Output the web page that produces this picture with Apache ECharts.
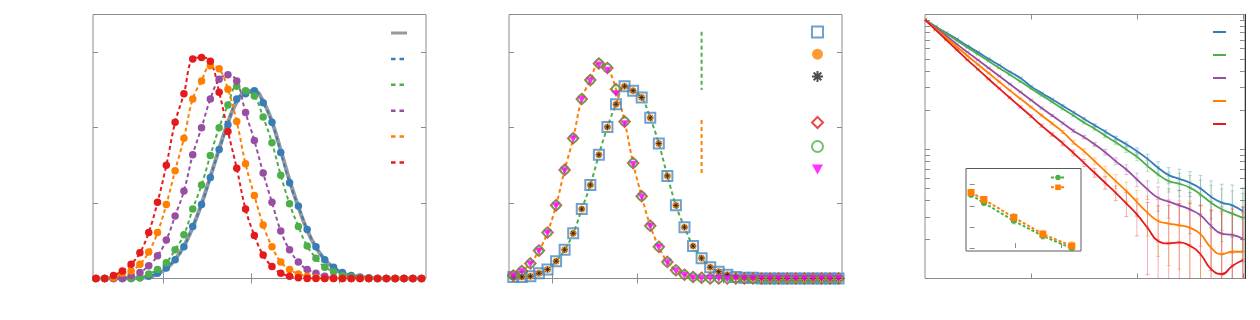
<!DOCTYPE html>
<html><head><meta charset="utf-8">
<script src="https://cdn.jsdelivr.net/npm/echarts@6/dist/echarts.min.js"></script>
<style>html,body{margin:0;padding:0;background:#fff}#c{width:1260px;height:320px}</style>
</head><body><div id="c"></div>
<script>
// ---------- Panel 1 ----------
const p1X = [0.23,0.33,0.43,0.53,0.63,0.73,0.83,0.93,1.03,1.13,1.23,1.33,1.43,1.53,1.63,1.73,1.83,1.93,2.03,2.13,2.23,2.33,2.43,2.53,2.63,2.73,2.83,2.93,3.03,3.13,3.23,3.33,3.43,3.53,3.63,3.73,3.83,3.93];
const p1Gray   = [0,0,0,0,0,0.01,0.02,0.06,0.13,0.25,0.43,0.68,0.99,1.35,1.72,2.07,2.34,2.48,2.49,2.35,2.08,1.70,1.30,0.95,0.64,0.41,0.25,0.14,0.07,0.04,0.02,0.01,0,0,0,0,0,0];
const p1Blue   = [0,0,0,0,0,0.01,0.03,0.07,0.14,0.25,0.42,0.69,0.98,1.34,1.71,2.04,2.38,2.45,2.49,2.33,2.07,1.67,1.27,0.96,0.65,0.42,0.25,0.15,0.08,0.04,0.02,0.01,0,0,0,0,0,0];
const p1Green  = [0,0,0,0,0,0.01,0.06,0.12,0.21,0.38,0.58,0.92,1.24,1.63,2.00,2.30,2.55,2.49,2.42,2.14,1.80,1.37,0.99,0.69,0.43,0.27,0.15,0.09,0.04,0.02,0.01,0,0,0,0,0,0,0];
const p1Purple = [0,0,0,0,0.04,0.08,0.17,0.30,0.51,0.83,1.16,1.64,2.00,2.38,2.64,2.70,2.62,2.20,1.83,1.40,1.01,0.63,0.38,0.22,0.12,0.07,0.03,0.01,0,0,0,0,0,0,0,0,0,0];
const p1Orange = [0,0,0.01,0.07,0.10,0.19,0.35,0.61,0.98,1.43,1.86,2.38,2.62,2.82,2.78,2.51,2.08,1.52,1.10,0.71,0.42,0.22,0.12,0.06,0.03,0.01,0,0,0,0,0,0,0,0,0,0,0,0];
const p1Red    = [0,0,0.04,0.10,0.19,0.34,0.61,1.01,1.50,2.07,2.45,2.91,2.93,2.88,2.47,1.95,1.46,0.92,0.57,0.31,0.16,0.07,0.03,0.01,0,0,0,0,0,0,0,0,0,0,0,0,0,0];
const p1XTicks = [1,2,3];
const p1YTicks = [1,2,3];

// ---------- Panel 2 ----------
const p2X = [0.55,0.65,0.75,0.85,0.95,1.05,1.15,1.25,1.35,1.45,1.55,1.65,1.75,1.85,1.95,2.05,2.15,2.25,2.35,2.45,2.55,2.65,2.75,2.85,2.95,3.05,3.15,3.25,3.35,3.45,3.55,3.65,3.75,3.85,3.95,4.05,4.15,4.25,4.35];
const p2Square   = [0.02,0.02,0.03,0.07,0.12,0.23,0.38,0.60,0.92,1.24,1.64,2.01,2.31,2.55,2.49,2.40,2.13,1.79,1.36,0.97,0.68,0.43,0.27,0.15,0.09,0.05,0.02,0.01,0.01,0,0,0,0,0,0,0,0,0,0];
const p2Circle   = [0.02,0.02,0.03,0.07,0.12,0.23,0.38,0.60,0.92,1.24,1.64,2.01,2.31,2.55,2.49,2.40,2.13,1.79,1.36,0.97,0.68,0.43,0.27,0.15,0.09,0.05,0.02,0.01,0.01,0,0,0,0,0,0,0,0,0,0];
const p2Star     = [0.02,0.02,0.03,0.07,0.12,0.23,0.38,0.60,0.92,1.24,1.64,2.01,2.31,2.55,2.49,2.40,2.13,1.79,1.36,0.97,0.68,0.43,0.27,0.15,0.09,0.05,0.02,0.01,0.01,0,0,0,0,0,0,0,0,0,0];
const p2Diamond  = [0.04,0.10,0.20,0.37,0.61,0.97,1.44,1.86,2.38,2.63,2.85,2.79,2.51,2.08,1.53,1.09,0.70,0.42,0.22,0.11,0.05,0.02,0.01,0,0,0,0,0,0,0,0,0,0,0,0,0,0,0,0];
const p2Ring     = [0.04,0.10,0.20,0.37,0.61,0.97,1.44,1.86,2.38,2.63,2.85,2.79,2.51,2.08,1.53,1.09,0.70,0.42,0.22,0.11,0.05,0.02,0.01,0,0,0,0,0,0,0,0,0,0,0,0,0,0,0,0];
const p2Triangle = [0.03,0.09,0.19,0.36,0.60,0.96,1.43,1.85,2.37,2.62,2.83,2.76,2.45,2.05,1.51,1.08,0.69,0.41,0.21,0.10,0.04,0.01,0,0,0,0,0,0,0,0,0,0,0,0,0,0,0,0,0];
const p2GuideX = 2.75;
const p2GuideGreen  = [3.27, 2.50];
const p2GuideOrange = [2.10, 1.38];
const p2XTicks = [1,2,3,4];
const p2YTicks = [1,2,3];

// ---------- Panel 3 ----------
const p3X = [0,0.1,0.2,0.3,0.4,0.5,0.6,0.7,0.8,0.9,1.0,1.1,1.2,1.3,1.4,1.5,1.6,1.7,1.8,1.9,2.0,2.1,2.2,2.3,2.4,2.5,2.6,2.7,2.8,2.9,3.0];
const p3Blue   = [1,0.888,0.794,0.710,0.630,0.563,0.500,0.447,0.397,0.355,0.306,0.272,0.243,0.217,0.193,0.172,0.153,0.137,0.122,0.109,0.0965,0.0842,0.0718,0.0630,0.0590,0.0550,0.0497,0.0429,0.0386,0.0368,0.0331];
const p3Green  = [1,0.883,0.785,0.693,0.612,0.543,0.480,0.424,0.377,0.333,0.295,0.261,0.232,0.205,0.182,0.161,0.144,0.127,0.113,0.0993,0.0873,0.0740,0.0638,0.0566,0.0541,0.0504,0.0447,0.0385,0.0343,0.0317,0.0294];
const p3Purple = [1,0.868,0.753,0.649,0.563,0.489,0.424,0.368,0.319,0.277,0.240,0.208,0.182,0.159,0.139,0.124,0.109,0.0948,0.0808,0.0697,0.0583,0.0489,0.0421,0.0393,0.0368,0.0342,0.0308,0.0255,0.0222,0.0217,0.0203];
const p3Orange = [1,0.852,0.727,0.619,0.528,0.452,0.388,0.332,0.285,0.246,0.212,0.183,0.158,0.136,0.113,0.0965,0.0808,0.0676,0.0566,0.0475,0.0390,0.0323,0.0278,0.0266,0.0258,0.0247,0.0220,0.0173,0.0154,0.0161,0.0161];
const p3Red    = [1,0.837,0.701,0.587,0.491,0.414,0.349,0.295,0.250,0.212,0.180,0.152,0.130,0.111,0.0937,0.0784,0.0657,0.0550,0.0460,0.0381,0.0313,0.0247,0.0195,0.0187,0.0190,0.0179,0.0154,0.0118,0.0108,0.0125,0.0139];
const p3ErrBlue   = [0,0.003,0.003,0.003,0.003,0.003,0.003,0.003,0.003,0.003,0.003,0.003,0.003,0.003,0.003,0.003,0.004,0.004,0.004,0.005,0.006,0.007,0.008,0.009,0.011,0.012,0.013,0.014,0.015,0.016,0.017];
const p3ErrGreen  = [0,0.003,0.003,0.003,0.003,0.003,0.003,0.003,0.003,0.003,0.003,0.003,0.003,0.003,0.003,0.004,0.004,0.004,0.005,0.005,0.006,0.007,0.009,0.010,0.011,0.012,0.013,0.014,0.015,0.016,0.016];
const p3ErrPurple = [0,0.003,0.003,0.003,0.003,0.003,0.003,0.003,0.003,0.003,0.003,0.003,0.003,0.003,0.004,0.004,0.004,0.005,0.005,0.006,0.007,0.008,0.009,0.010,0.011,0.012,0.013,0.014,0.014,0.015,0.015];
const p3ErrOrange = [0,0.003,0.003,0.003,0.003,0.003,0.003,0.003,0.003,0.003,0.003,0.003,0.004,0.004,0.004,0.005,0.005,0.006,0.007,0.008,0.009,0.011,0.013,0.014,0.014,0.015,0.015,0.016,0.016,0.016,0.016];
const p3ErrRed    = [0,0.003,0.003,0.003,0.003,0.003,0.003,0.003,0.003,0.003,0.004,0.004,0.004,0.005,0.005,0.005,0.005,0.006,0.006,0.008,0.010,0.014,0.017,0.018,0.019,0.020,0.021,0.022,0.022,0.022,0.022];
const p3XTicks = [1,2,3];
const p3YMajor = [0.01,0.1,1];
const p3YMinor = [0.02,0.03,0.04,0.05,0.06,0.07,0.08,0.09,0.2,0.3,0.4,0.5,0.6,0.7,0.8,0.9];

// ---------- Inset ----------
const inX = [0.03,0.31,0.96,1.59,2.22];
const inGreen  = [2.52,2.14,1.29,0.57,-0.01];
const inOrange = [2.63,2.30,1.45,0.66,0.10];
const inErrGreen  = [0.12,0.12,0.15,0.15,0.15];
const inErrOrange = [0.15,0.15,0.18,0.18,0.2];
const inXTicks = [1,2];
const inYTicks = [0,1,2,3];

// ---------- colours ----------
const C = {blue:'#377eb8', green:'#4daf4a', purple:'#984ea3', orange:'#ff7f00', red:'#e41a1c', gray:'#999999', magenta:'#ff00ff'};
const BORDER = '#8c8c8c';

const zip = (xs, ys) => xs.map((x,i)=>[x, ys[i]]);
const zip3 = (xs, ys, es) => xs.map((x,i)=>[x, ys[i], es[i]]);

function xAx(grid, pos, min, max, ticks){
  return {type:'value', gridIndex:grid, position:pos, min, max,
    axisLine:{show:false}, splitLine:{show:false}, axisLabel:{show:false},
    axisTick:{show:true, inside:true, length:5, customValues:ticks, lineStyle:{color:BORDER}}};
}
function yAx(grid, pos, min, max, ticks, extra){
  return Object.assign({type:'value', gridIndex:grid, position:pos, min, max,
    axisLine:{show:false}, splitLine:{show:false}, axisLabel:{show:false},
    axisTick:{show:true, inside:true, length:5, customValues:ticks, lineStyle:{color:BORDER}}}, extra||{});
}

const DASH = [4,3];
function dashLine(name, xi, yi, xs, ys, color, width){
  return {type:'line', name, xAxisIndex:xi, yAxisIndex:yi, data:zip(xs,ys), smooth:0.4, symbol:'none',
    lineStyle:{color, width:width||2, type:DASH}, itemStyle:{color}, z:2};
}
function dots(xi, yi, xs, ys, color, size){
  return {type:'scatter', xAxisIndex:xi, yAxisIndex:yi, data:zip(xs,ys), symbol:'circle', symbolSize:size||7,
    itemStyle:{color, opacity:1}, z:3};
}

function errRender(color, isLog, capW){
  return function(params, api){
    const x = api.value(0), y = api.value(1), e = api.value(2);
    const c = api.coord([x, y]);
    const t = api.coord([x, y + e]);
    const lowV = y - e;
    let b = (!isLog || lowV > 0.0005) ? api.coord([x, lowV]) : [c[0], 400];
    if (!isFinite(b[1])) b = [c[0], 400];
    const w = capW || 2;
    return {type:'group', children:[
      {type:'line', shape:{x1:t[0], y1:t[1], x2:b[0], y2:b[1]}, style:{stroke:color, lineWidth:1}},
      {type:'line', shape:{x1:t[0]-w, y1:t[1], x2:t[0]+w, y2:t[1]}, style:{stroke:color, lineWidth:1}},
      {type:'line', shape:{x1:b[0]-w, y1:b[1], x2:b[0]+w, y2:b[1]}, style:{stroke:color, lineWidth:1}},
      {type:'line', shape:{x1:c[0]-2, y1:c[1]-2, x2:c[0]+2, y2:c[1]+2}, style:{stroke:color, lineWidth:1}},
      {type:'line', shape:{x1:c[0]-2, y1:c[1]+2, x2:c[0]+2, y2:c[1]-2}, style:{stroke:color, lineWidth:1}}
    ]};
  };
}
function errSeries(xi, yi, xs, ys, es, color, log, z){
  return {type:'custom', xAxisIndex:xi, yAxisIndex:yi, data:zip3(xs,ys,es), clip:true,
    renderItem: errRender(color, log, 2), z:z||1, silent:true};
}
function fade(hex, a){
  const n = parseInt(hex.slice(1),16);
  return 'rgba('+((n>>16)&255)+','+((n>>8)&255)+','+(n&255)+','+a+')';
}

const STAR = 'path://M5,0L5,10M0,5L10,5M1.5,1.5L8.5,8.5M1.5,8.5L8.5,1.5';
const TRI = 'path://M0,0L10,0L5,9Z';
const ICON_SOLID = 'path://M0,0H16V3H0Z';
const ICON_DASH = 'path://M0,0.25H4.5V2.75H0ZM8.5,0.25H13V2.75H8.5ZM16,3';
const ICON_LINE = 'path://M0,0H13V2H0Z';

const series = [];
// Panel 1
series.push({type:'line', name:'a1', xAxisIndex:0, yAxisIndex:0, data:zip(p1X,p1Gray), smooth:0.4, symbol:'none',
  lineStyle:{color:C.gray, width:4}, itemStyle:{color:C.gray}, z:1});
[['a2',p1Blue,C.blue],['a3',p1Green,C.green],['a4',p1Purple,C.purple],['a5',p1Orange,C.orange],['a6',p1Red,C.red]].forEach(([n,d,c])=>{
  series.push(dashLine(n,0,0,p1X,d,c,2));
  series.push(dots(0,0,p1X,d,c,7.5));
});
// Panel 2
series.push(dashLine('gA',2,2,p2X,p2Square,C.green,2));
series.push(dashLine('gB',2,2,p2X,p2Diamond,C.orange,2));
series.push({type:'line', xAxisIndex:2, yAxisIndex:2, data:[[p2GuideX,p2GuideGreen[0]],[p2GuideX,p2GuideGreen[1]]], symbol:'none',
  lineStyle:{color:C.green, width:2, type:DASH}, z:2});
series.push({type:'line', xAxisIndex:2, yAxisIndex:2, data:[[p2GuideX,p2GuideOrange[0]],[p2GuideX,p2GuideOrange[1]]], symbol:'none',
  lineStyle:{color:C.orange, width:2, type:DASH}, z:2});
series.push({type:'scatter', name:'b1', xAxisIndex:2, yAxisIndex:2, data:zip(p2X,p2Square), symbol:'rect', symbolSize:10,
  itemStyle:{color:'rgba(255,255,255,0)', borderColor:'#4a8ac4', borderWidth:2}, z:3});
series.push({type:'scatter', name:'b2', xAxisIndex:2, yAxisIndex:2, data:zip(p2X,p2Circle), symbol:'circle', symbolSize:7,
  itemStyle:{color:C.orange}, z:4});
series.push({type:'scatter', name:'b3', xAxisIndex:2, yAxisIndex:2, data:zip(p2X,p2Star), symbol:STAR, symbolSize:6,
  itemStyle:{color:'rgba(0,0,0,0)', borderColor:'#222', borderWidth:1}, z:5});
series.push({type:'scatter', name:'b4', xAxisIndex:2, yAxisIndex:2, data:zip(p2X,p2Diamond), symbol:'diamond', symbolSize:[11,11],
  itemStyle:{color:'rgba(255,255,255,0)', borderColor:C.red, borderWidth:1.5}, z:3});
series.push({type:'scatter', name:'b5', xAxisIndex:2, yAxisIndex:2, data:zip(p2X,p2Ring), symbol:'circle', symbolSize:8,
  itemStyle:{color:'rgba(255,255,255,0)', borderColor:C.green, borderWidth:2}, z:4});
series.push({type:'scatter', name:'b6', xAxisIndex:2, yAxisIndex:2, data:zip(p2X,p2Triangle), symbol:TRI, symbolSize:[8,7],
  itemStyle:{color:C.magenta}, z:5});
// Panel 3
[['c1',p3Blue,p3ErrBlue,C.blue],['c2',p3Green,p3ErrGreen,C.green],['c3',p3Purple,p3ErrPurple,C.purple],['c4',p3Orange,p3ErrOrange,C.orange],['c5',p3Red,p3ErrRed,C.red]].forEach(([n,d,e,c])=>{
  series.push(errSeries(4,4,p3X,d,e,fade(c,0.35),true,1));
  series.push({type:'line', name:n, xAxisIndex:4, yAxisIndex:4, data:zip(p3X,d), smooth:0.5, symbol:'none',
    lineStyle:{color:c, width:1.8}, itemStyle:{color:c}, z:3});
});
// Inset
series.push(errSeries(6,8,inX,inGreen,inErrGreen,fade(C.green,0.4),false,10));
series.push(errSeries(6,8,inX,inOrange,inErrOrange,fade(C.orange,0.4),false,10));
series.push({type:'line', name:'d1', xAxisIndex:6, yAxisIndex:8, data:zip(inX,inGreen), symbol:'circle', symbolSize:6,
  lineStyle:{color:C.green, width:2, type:[3,2]}, itemStyle:{color:C.green}, z:11});
series.push({type:'line', name:'d2', xAxisIndex:6, yAxisIndex:8, data:zip(inX,inOrange), symbol:'rect', symbolSize:7,
  lineStyle:{color:C.orange, width:2, type:[3,2]}, itemStyle:{color:C.orange}, z:12});

const noText = () => '';
const legendItemStyle = {borderWidth:0};
const option = {
  animation:false,
  backgroundColor:'#fff',
  grid:[
    {left:93, top:14.5, width:333, height:264, show:true, borderColor:BORDER, borderWidth:1, backgroundColor:'transparent'},
    {left:509, top:14.5, width:333, height:264, show:true, borderColor:BORDER, borderWidth:1, backgroundColor:'transparent'},
    {left:925, top:14.5, width:320, height:264, show:true, borderColor:BORDER, borderWidth:1, backgroundColor:'transparent'},
    {left:966, top:168.5, width:115, height:82.5, show:true, borderColor:'#5a5a5a', borderWidth:1, backgroundColor:'#fff', z:5}
  ],
  xAxis:[
    xAx(0,'bottom',0.197,3.98,p1XTicks), xAx(0,'top',0.197,3.98,p1XTicks),
    xAx(1,'bottom',0.5,4.39,p2XTicks), xAx(1,'top',0.5,4.39,p2XTicks),
    xAx(2,'bottom',0,3.02,p3XTicks), xAx(2,'top',0,3.02,p3XTicks),
    Object.assign(xAx(3,'bottom',-0.08,2.42,inXTicks), {z:6})
  ],
  yAxis:[
    yAx(0,'left',0,3.5,p1YTicks), yAx(0,'right',0,3.5,p1YTicks),
    yAx(1,'left',0,3.5,p2YTicks), yAx(1,'right',0,3.5,p2YTicks),
    yAx(2,'left',0.01,1.1,p3YMajor,{type:'log', logBase:10}),
    yAx(2,'left',0.01,1.1,p3YMinor,{type:'log', logBase:10}),
    yAx(2,'right',0.01,1.1,p3YMajor,{type:'log', logBase:10, axisLine:{show:true, lineStyle:{color:'#333', width:1}}}),
    yAx(2,'right',0.01,1.1,p3YMinor,{type:'log', logBase:10}),
    Object.assign(yAx(3,'left',-0.14,3.77,inYTicks), {z:6})
  ],
  legend:[
    {left:391, top:28, orient:'vertical', padding:0, itemWidth:16, itemHeight:10, itemGap:19.5, formatter:noText,
      itemStyle:legendItemStyle, selectedMode:false,
      data:[{name:'a1',icon:ICON_SOLID},{name:'a2',icon:ICON_DASH},{name:'a3',icon:ICON_DASH},{name:'a4',icon:ICON_DASH},{name:'a5',icon:ICON_DASH},{name:'a6',icon:ICON_DASH}]},
    {left:811, top:25.5, orient:'vertical', padding:0, itemWidth:11, itemHeight:11, itemGap:10.2, formatter:noText,
      data:['b1','b2','b3'], selectedMode:false},
    {left:811, top:116, orient:'vertical', padding:0, itemWidth:11, itemHeight:11, itemGap:11, formatter:noText,
      data:['b4','b5','b6'], selectedMode:false},
    {left:1213, top:27, orient:'vertical', padding:0, itemWidth:13, itemHeight:10, itemGap:17, formatter:noText,
      itemStyle:legendItemStyle, selectedMode:false,
      data:[{name:'c1',icon:ICON_LINE},{name:'c2',icon:ICON_LINE},{name:'c3',icon:ICON_LINE},{name:'c4',icon:ICON_LINE},{name:'c5',icon:ICON_LINE}]},
    {left:1050, top:174, orient:'vertical', padding:0, itemWidth:14, itemHeight:7, itemGap:3.5, formatter:noText,
      data:['d1','d2'], selectedMode:false, z:13}
  ],
  series
};
const chart = echarts.init(document.getElementById('c'), null, {renderer:'canvas'});
chart.setOption(option);
</script>
</body></html>
